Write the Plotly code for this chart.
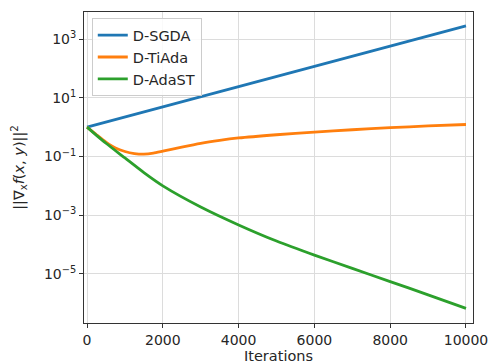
import plotly.graph_objects as go

iters_sgda = [0, 1000, 2000, 3000, 4000, 5000, 6000, 7000, 8000, 9000, 10000]
sgda = [1.0, 2.21, 4.90, 10.8, 24.0, 53.1, 117, 260, 575, 1270, 2818]

iters_tiada = [0, 250, 500, 750, 1000, 1250, 1500, 1750, 2000, 2500, 3000, 3500,
               4000, 5000, 6000, 7000, 8000, 9000, 10000]
tiada = [1.0, 0.55, 0.31, 0.195, 0.148, 0.126, 0.120, 0.129, 0.151, 0.209, 0.282,
         0.355, 0.427, 0.550, 0.676, 0.813, 0.955, 1.10, 1.23]

iters_adast = [0, 250, 500, 1000, 1500, 2000, 3000, 4000, 5000, 6000, 7000, 8000, 9000, 10000]
adast = [1.0, 0.525, 0.282, 0.0891, 0.0282, 0.0100, 1.91e-3, 4.68e-4, 1.32e-4,
         4.37e-5, 1.55e-5, 5.50e-6, 1.95e-6, 6.76e-7]

x_ticks = [0, 2000, 4000, 6000, 8000, 10000]
y_ticks = [1e-5, 1e-3, 1e-1, 1e1, 1e3]
y_ticktext = ["10<sup>−5</sup>", "10<sup>−3</sup>", "10<sup>−1</sup>", "10<sup>1</sup>", "10<sup>3</sup>"]

fig = go.Figure()
fig.add_trace(go.Scatter(x=iters_sgda, y=sgda, mode="lines", name="D-SGDA",
                         line=dict(color="#1f77b4", width=2.8)))
fig.add_trace(go.Scatter(x=iters_tiada, y=tiada, mode="lines", name="D-TiAda",
                         line=dict(color="#ff7f0e", width=2.8, shape="spline", smoothing=0.6)))
fig.add_trace(go.Scatter(x=iters_adast, y=adast, mode="lines", name="D-AdaST",
                         line=dict(color="#2ca02c", width=2.8, shape="spline", smoothing=0.6)))

font = dict(family="DejaVu Sans", size=14, color="#262626")
fig.update_layout(
    width=491, height=364,
    margin=dict(l=84, r=18, t=12, b=41),
    paper_bgcolor="white", plot_bgcolor="white",
    font=font,
    legend=dict(x=0.02, y=0.98, xanchor="left", yanchor="top",
                bordercolor="#cccccc", borderwidth=1, bgcolor="rgba(255,255,255,0.85)",
                font=dict(family="DejaVu Sans", size=14.5, color="#262626"),
                tracegroupgap=3),
    showlegend=True,
)
fig.update_xaxes(range=[-80, 10185], tickvals=x_ticks, ticktext=[str(v) for v in x_ticks],
                 showgrid=True, gridcolor="#dcdcdc", gridwidth=1,
                 showline=True, linecolor="#333333", linewidth=1, mirror=True,
                 ticks="outside", ticklen=4, tickcolor="#333333", zeroline=False,
                 automargin=False,
                 title=dict(text="Iterations", font=dict(size=14.5)))
fig.update_yaxes(type="log", range=[-6.67, 3.92], tickvals=y_ticks, ticktext=y_ticktext,
                 showgrid=True, gridcolor="#dcdcdc", gridwidth=1,
                 showline=True, linecolor="#333333", linewidth=1, mirror=True,
                 ticks="outside", ticklen=4, tickcolor="#333333", zeroline=False,
                 automargin=False,
                 title=dict(text="||∇<sub>x</sub><i>f</i>(<i>x</i>, <i>y</i>)||<sup>2</sup>",
                            font=dict(size=14.5)))

fig.write_html("out.html")
